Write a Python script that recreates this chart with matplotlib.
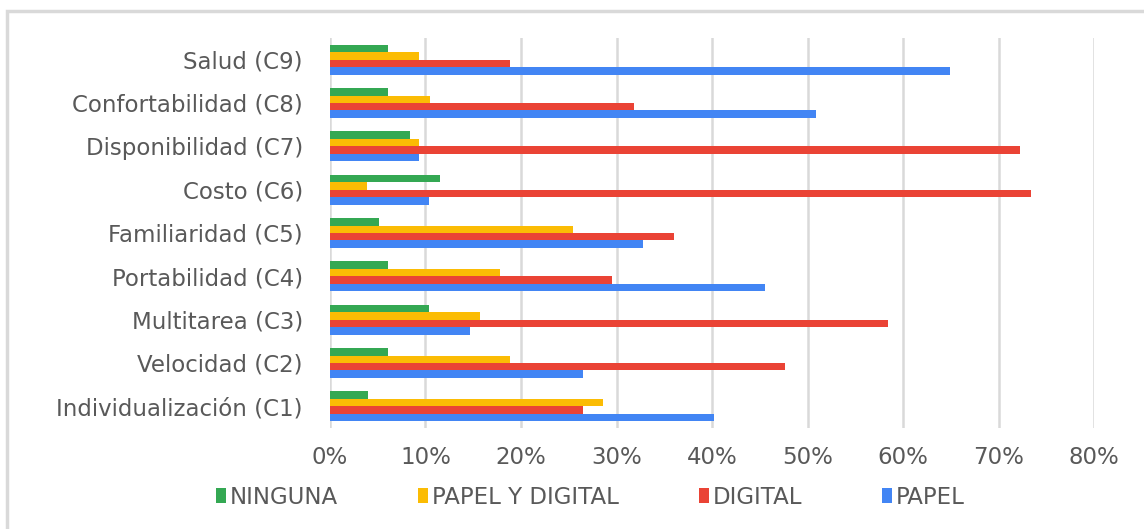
import matplotlib.pyplot as plt
import numpy as np
from matplotlib.patches import Rectangle

# Data (fractions), categories bottom -> top
categorias = ["Individualización (C1)", "Velocidad (C2)", "Multitarea (C3)",
              "Portabilidad (C4)", "Familiaridad (C5)", "Costo (C6)",
              "Disponibilidad (C7)", "Confortabilidad (C8)", "Salud (C9)"]
ninguna = [0.040, 0.061, 0.104, 0.061, 0.051, 0.115, 0.084, 0.061, 0.061]
papel_y_digital = [0.286, 0.189, 0.157, 0.178, 0.254, 0.039, 0.093, 0.105, 0.093]
digital = [0.265, 0.476, 0.584, 0.295, 0.360, 0.734, 0.723, 0.318, 0.189]
papel = [0.402, 0.265, 0.147, 0.455, 0.328, 0.104, 0.093, 0.509, 0.649]
series_names = ["NINGUNA", "PAPEL Y DIGITAL", "DIGITAL", "PAPEL"]
ticks = [0, 0.1, 0.2, 0.3, 0.4, 0.5, 0.6, 0.7, 0.8]

colors = ["#34A853", "#FBBC04", "#EA4335", "#4285F4"]
txt = "#595959"

fig = plt.figure(figsize=(11.44, 5.29), dpi=100)
ax = fig.add_axes([330/1144, 1-428/529, (1094-330)/1144, (428-38)/529])

# outer light border (runs off the right and bottom edges)
fig.patches.append(Rectangle((7/1144, -0.1), 1.1, 1.1-11/529, transform=fig.transFigure,
                             fill=False, edgecolor="#d9d9d9", linewidth=2.5))

y = np.arange(len(categorias))
h = 0.172
vals = [ninguna, papel_y_digital, digital, papel]
offs = [1.5, 0.5, -0.5, -1.5]
for v, o, c, n in zip(vals, offs, colors, series_names):
    ax.barh(y + o*h, v, height=h, color=c, label=n, zorder=3)

ax.set_xlim(0, 0.8)
ax.set_ylim(-0.5, 8.5)
ax.set_xticks(ticks)
ax.set_xticklabels(["%d%%" % round(t*100) for t in ticks])
ax.set_yticks(y)
ax.set_yticklabels(categorias)
ax.tick_params(length=0, labelsize=16.5, colors=txt)
ax.tick_params(axis="y", pad=19.5)
ax.tick_params(axis="x", pad=13)
ax.xaxis.grid(True, color="#d9d9d9", linewidth=1.8, zorder=0)
ax.set_axisbelow(True)
for s in ax.spines.values():
    s.set_visible(False)

leg = fig.legend(loc="center", bbox_to_anchor=(0.516, 1-497/529), ncol=4,
                 frameon=False, fontsize=16.5, handlelength=0.45, handleheight=0.6,
                 handletextpad=0.15, columnspacing=3.5, labelcolor=txt)

plt.savefig("out.png", dpi=100)
